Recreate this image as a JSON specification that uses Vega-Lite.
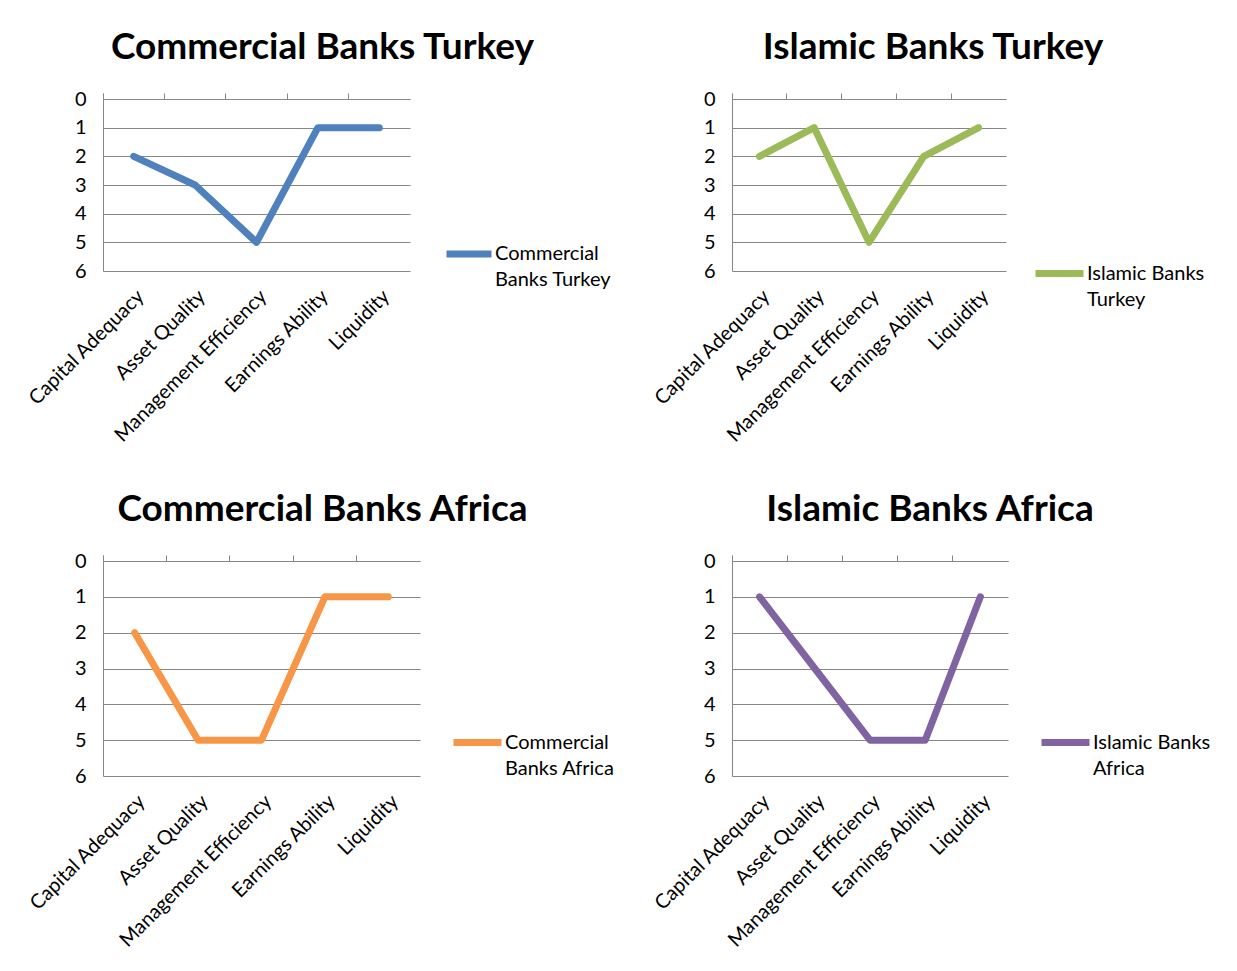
{
  "$schema": "https://vega.github.io/schema/vega-lite/v6.json",
  "background": "white",
  "padding": {"left": 24, "top": 29, "right": 5, "bottom": 5},
  "data": {"values": [
    {"series": "Commercial Banks Turkey", "criterion": "Capital Adequacy", "rank": 2},
    {"series": "Commercial Banks Turkey", "criterion": "Asset Quality", "rank": 3},
    {"series": "Commercial Banks Turkey", "criterion": "Management Efficiency", "rank": 5},
    {"series": "Commercial Banks Turkey", "criterion": "Earnings Ability", "rank": 1},
    {"series": "Commercial Banks Turkey", "criterion": "Liquidity", "rank": 1},
    {"series": "Islamic Banks Turkey", "criterion": "Capital Adequacy", "rank": 2},
    {"series": "Islamic Banks Turkey", "criterion": "Asset Quality", "rank": 1},
    {"series": "Islamic Banks Turkey", "criterion": "Management Efficiency", "rank": 5},
    {"series": "Islamic Banks Turkey", "criterion": "Earnings Ability", "rank": 2},
    {"series": "Islamic Banks Turkey", "criterion": "Liquidity", "rank": 1},
    {"series": "Commercial Banks Africa", "criterion": "Capital Adequacy", "rank": 2},
    {"series": "Commercial Banks Africa", "criterion": "Asset Quality", "rank": 5},
    {"series": "Commercial Banks Africa", "criterion": "Management Efficiency", "rank": 5},
    {"series": "Commercial Banks Africa", "criterion": "Earnings Ability", "rank": 1},
    {"series": "Commercial Banks Africa", "criterion": "Liquidity", "rank": 1},
    {"series": "Islamic Banks Africa", "criterion": "Capital Adequacy", "rank": 1},
    {"series": "Islamic Banks Africa", "criterion": "Asset Quality", "rank": 3},
    {"series": "Islamic Banks Africa", "criterion": "Management Efficiency", "rank": 5},
    {"series": "Islamic Banks Africa", "criterion": "Earnings Ability", "rank": 5},
    {"series": "Islamic Banks Africa", "criterion": "Liquidity", "rank": 1}
  ]},
  "config": {
    "font": "Lato",
    "view": {"stroke": null},
    "axis": {"labelFont": "Lato", "labelColor": "#000000", "labelFontSize": 20, "title": null, "labelLimit": 400},
    "axisY": {"domainColor": "#868686", "gridColor": "#868686", "ticks": false, "labelPadding": 17, "grid": true},
    "title": {"font": "Lato", "fontSize": 37, "fontWeight": "bold", "color": "#000000", "anchor": "middle", "frame": "group", "offset": 22},
    "legend": {"labelFont": "Lato", "labelFontSize": 20, "labelColor": "#000000", "padding": 0}
  },
  "columns": 2,
  "bounds": "flush",
  "spacing": {"row": 290, "column": 312},
  "resolve": {"scale": {"color": "independent"}, "legend": {"color": "independent"}},
  "concat": [
    {
      "width": 307, "height": 172,
      "title": {"text": "Commercial Banks Turkey", "dx": 66},
      "transform": [{"filter": "datum.series === 'Commercial Banks Turkey'"}],
      "encoding": {
        "y": {"field": "rank", "type": "quantitative", "scale": {"domain": [0, 6], "reverse": true, "nice": false, "zero": false}, "axis": {"values": [0, 1, 2, 3, 4, 5, 6]}},
        "color": {"field": "series", "type": "nominal", "scale": {"domain": ["Commercial Banks Turkey"], "range": ["#4F81BD"]},
          "legend": {"orient": "none", "legendX": 340, "legendY": 129, "title": null, "symbolType": "stroke", "symbolSize": 2025, "symbolStrokeWidth": 7, "labelOffset": 0, "labelLimit": 400,
            "labelExpr": "['Commercial', 'Banks Turkey']", "encode": {"labels": {"update": {"lineHeight": {"value": 26}}}}}}
      },
      "layer": [
        {"mark": {"type": "line", "strokeWidth": 7, "strokeJoin": "round", "strokeCap": "round"},
         "encoding": {"x": {"field": "criterion", "type": "nominal", "sort": ["Capital Adequacy", "Asset Quality", "Management Efficiency", "Earnings Ability", "Liquidity"], "scale": {"type": "band", "paddingInner": 0, "paddingOuter": 0},
           "axis": {"orient": "bottom", "domain": false, "ticks": false, "labelAngle": -45, "labelPadding": 15, "grid": false}}}},
        {"mark": {"type": "line", "strokeWidth": 7, "opacity": 0},
         "encoding": {"x": {"field": "criterion", "type": "nominal", "sort": ["Capital Adequacy", "Asset Quality", "Management Efficiency", "Earnings Ability", "Liquidity"], "scale": {"type": "band", "paddingInner": 0, "paddingOuter": 0},
           "axis": {"orient": "top", "labels": false, "domain": true, "domainColor": "#868686", "ticks": true, "tickColor": "#868686", "tickSize": 6, "bandPosition": 0, "tickExtra": true, "grid": false}}}}
      ],
      "resolve": {"axis": {"x": "independent"}}
    },
    {
      "width": 274, "height": 172,
      "title": {"text": "Islamic Banks Turkey", "dx": 64},
      "transform": [{"filter": "datum.series === 'Islamic Banks Turkey'"}],
      "encoding": {
        "y": {"field": "rank", "type": "quantitative", "scale": {"domain": [0, 6], "reverse": true, "nice": false, "zero": false}, "axis": {"values": [0, 1, 2, 3, 4, 5, 6]}},
        "color": {"field": "series", "type": "nominal", "scale": {"domain": ["Islamic Banks Turkey"], "range": ["#9BBB59"]},
          "legend": {"orient": "none", "legendX": 300, "legendY": 147, "title": null, "symbolType": "stroke", "symbolSize": 2304, "symbolStrokeWidth": 7, "labelOffset": 0, "labelLimit": 400,
            "labelExpr": "['Islamic Banks', 'Turkey']", "encode": {"labels": {"update": {"lineHeight": {"value": 26}}}}}}
      },
      "layer": [
        {"mark": {"type": "line", "strokeWidth": 7, "strokeJoin": "round", "strokeCap": "round"},
         "encoding": {"x": {"field": "criterion", "type": "nominal", "sort": ["Capital Adequacy", "Asset Quality", "Management Efficiency", "Earnings Ability", "Liquidity"], "scale": {"type": "band", "paddingInner": 0, "paddingOuter": 0},
           "axis": {"orient": "bottom", "domain": false, "ticks": false, "labelAngle": -45, "labelPadding": 15, "grid": false}}}},
        {"mark": {"type": "line", "strokeWidth": 7, "opacity": 0},
         "encoding": {"x": {"field": "criterion", "type": "nominal", "sort": ["Capital Adequacy", "Asset Quality", "Management Efficiency", "Earnings Ability", "Liquidity"], "scale": {"type": "band", "paddingInner": 0, "paddingOuter": 0},
           "axis": {"orient": "top", "labels": false, "domain": true, "domainColor": "#868686", "ticks": true, "tickColor": "#868686", "tickSize": 6, "bandPosition": 0, "tickExtra": true, "grid": false}}}}
      ],
      "resolve": {"axis": {"x": "independent"}}
    },
    {
      "width": 317, "height": 215,
      "title": {"text": "Commercial Banks Africa", "dx": 61},
      "transform": [{"filter": "datum.series === 'Commercial Banks Africa'"}],
      "encoding": {
        "y": {"field": "rank", "type": "quantitative", "scale": {"domain": [0, 6], "reverse": true, "nice": false, "zero": false}, "axis": {"values": [0, 1, 2, 3, 4, 5, 6]}},
        "color": {"field": "series", "type": "nominal", "scale": {"domain": ["Commercial Banks Africa"], "range": ["#F79646"]},
          "legend": {"orient": "none", "legendX": 347, "legendY": 154, "title": null, "symbolType": "stroke", "symbolSize": 2304, "symbolStrokeWidth": 7, "labelOffset": 0, "labelLimit": 400,
            "labelExpr": "['Commercial', 'Banks Africa']", "encode": {"labels": {"update": {"lineHeight": {"value": 26}}}}}}
      },
      "layer": [
        {"mark": {"type": "line", "strokeWidth": 7, "strokeJoin": "round", "strokeCap": "round"},
         "encoding": {"x": {"field": "criterion", "type": "nominal", "sort": ["Capital Adequacy", "Asset Quality", "Management Efficiency", "Earnings Ability", "Liquidity"], "scale": {"type": "band", "paddingInner": 0, "paddingOuter": 0},
           "axis": {"orient": "bottom", "domain": false, "ticks": false, "labelAngle": -45, "labelPadding": 15, "grid": false}}}},
        {"mark": {"type": "line", "strokeWidth": 7, "opacity": 0},
         "encoding": {"x": {"field": "criterion", "type": "nominal", "sort": ["Capital Adequacy", "Asset Quality", "Management Efficiency", "Earnings Ability", "Liquidity"], "scale": {"type": "band", "paddingInner": 0, "paddingOuter": 0},
           "axis": {"orient": "top", "labels": false, "domain": true, "domainColor": "#868686", "ticks": true, "tickColor": "#868686", "tickSize": 6, "bandPosition": 0, "tickExtra": true, "grid": false}}}}
      ],
      "resolve": {"axis": {"x": "independent"}}
    },
    {
      "width": 276, "height": 215,
      "title": {"text": "Islamic Banks Africa", "dx": 60},
      "transform": [{"filter": "datum.series === 'Islamic Banks Africa'"}],
      "encoding": {
        "y": {"field": "rank", "type": "quantitative", "scale": {"domain": [0, 6], "reverse": true, "nice": false, "zero": false}, "axis": {"values": [0, 1, 2, 3, 4, 5, 6]}},
        "color": {"field": "series", "type": "nominal", "scale": {"domain": ["Islamic Banks Africa"], "range": ["#8064A2"]},
          "legend": {"orient": "none", "legendX": 306, "legendY": 154, "title": null, "symbolType": "stroke", "symbolSize": 2304, "symbolStrokeWidth": 7, "labelOffset": 0, "labelLimit": 400,
            "labelExpr": "['Islamic Banks', 'Africa']", "encode": {"labels": {"update": {"lineHeight": {"value": 26}}}}}}
      },
      "layer": [
        {"mark": {"type": "line", "strokeWidth": 7, "strokeJoin": "round", "strokeCap": "round"},
         "encoding": {"x": {"field": "criterion", "type": "nominal", "sort": ["Capital Adequacy", "Asset Quality", "Management Efficiency", "Earnings Ability", "Liquidity"], "scale": {"type": "band", "paddingInner": 0, "paddingOuter": 0},
           "axis": {"orient": "bottom", "domain": false, "ticks": false, "labelAngle": -45, "labelPadding": 15, "grid": false}}}},
        {"mark": {"type": "line", "strokeWidth": 7, "opacity": 0},
         "encoding": {"x": {"field": "criterion", "type": "nominal", "sort": ["Capital Adequacy", "Asset Quality", "Management Efficiency", "Earnings Ability", "Liquidity"], "scale": {"type": "band", "paddingInner": 0, "paddingOuter": 0},
           "axis": {"orient": "top", "labels": false, "domain": true, "domainColor": "#868686", "ticks": true, "tickColor": "#868686", "tickSize": 6, "bandPosition": 0, "tickExtra": true, "grid": false}}}}
      ],
      "resolve": {"axis": {"x": "independent"}}
    }
  ]
}
